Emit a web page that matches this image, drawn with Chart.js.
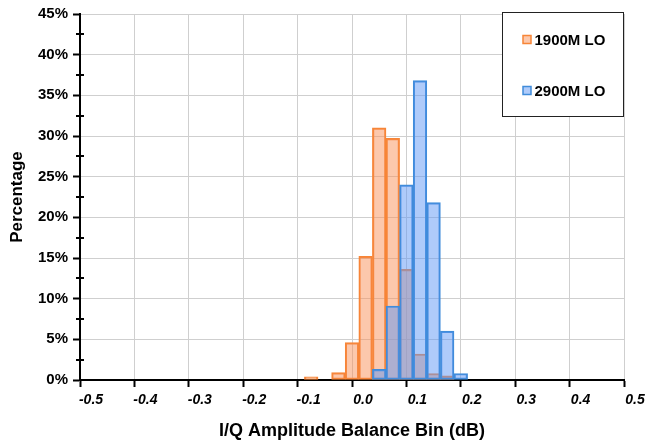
<!DOCTYPE html>
<html>
<head>
<meta charset="utf-8">
<script src="https://cdn.jsdelivr.net/npm/chart.js@4.4.1/dist/chart.umd.min.js"></script>
<style>
html,body{margin:0;padding:0;background:#fff;}
#wrap{width:645px;height:442px;position:relative;}
</style>
</head>
<body>
<div id="wrap"><canvas id="c"></canvas></div>
<script>
// Bin centers (dB), bin width 0.025 dB
const binCenters = [-0.15, -0.125, -0.1, -0.075, -0.05, -0.025, 0, 0.025, 0.05, 0.075, 0.1, 0.125, 0.15, 0.175, 0.2];
const lo1900 = [0, 0, 0, 0.4, 0, 0.9, 4.6, 15.2, 31.0, 29.7, 13.6, 3.2, 0.8, 0.5, null];
const lo2900 = [null, null, null, null, null, null, null, null, 1.3, 9.1, 24.0, 36.8, 21.8, 6.0, 0.8];
const seriesLabels = ['1900M LO', '2900M LO'];
const xTickValues = [-0.5, -0.4, -0.3, -0.2, -0.1, 0.0, 0.1, 0.2, 0.3, 0.4, 0.5];
const yTickValues = [0, 5, 10, 15, 20, 25, 30, 35, 40, 45];
const yMinorValues = [2.5, 7.5, 12.5, 17.5, 22.5, 27.5, 32.5, 37.5, 42.5];
const xTitle = 'I/Q Amplitude Balance Bin (dB)';
const yTitle = 'Percentage';

const FONT = "'Liberation Sans', Arial, sans-serif";
const fills = ['rgba(249,145,89,0.5)', 'rgba(95,151,245,0.5)'];
const borders = ['rgb(247,133,55)', 'rgb(64,140,218)'];

function toPoints(vals) {
  return binCenters.map((x, i) => ({x: x, y: vals[i]}));
}

const minorTicks = {
  id: 'minorTicks',
  afterDatasetsDraw(chart) {
    const ys = chart.scales.y, ctx = chart.ctx;
    const x0 = chart.chartArea.left;
    ctx.save();
    ctx.strokeStyle = '#000';
    ctx.lineWidth = 2;
    yMinorValues.forEach(v => {
      const py = Math.round(ys.getPixelForValue(v));
      ctx.beginPath();
      ctx.moveTo(x0 - 4, py);
      ctx.lineTo(x0 + 4, py);
      ctx.stroke();
    });
    ctx.restore();
  }
};

const boxLegend = {
  id: 'boxLegend',
  afterDraw(chart) {
    const ctx = chart.ctx, ca = chart.chartArea;
    const w = 121, h = 104;
    const left = Math.round(ca.right - w) - 0.5, top = Math.round(ca.top) - 1.5;
    ctx.save();
    ctx.fillStyle = '#fff';
    ctx.fillRect(left, top, w, h);
    ctx.strokeStyle = '#222';
    ctx.lineWidth = 1;
    ctx.strokeRect(left, top, w, h);
    ctx.font = 'bold 15px ' + FONT;
    ctx.textBaseline = 'middle';
    ctx.textAlign = 'left';
    const rows = [top + 27, top + 78];
    seriesLabels.forEach((lab, i) => {
      const cy = rows[i];
      ctx.fillStyle = fills[i];
      ctx.fillRect(left + 20.5, cy - 4, 8, 8);
      ctx.strokeStyle = borders[i];
      ctx.lineWidth = 1.5;
      ctx.strokeRect(left + 20.5, cy - 4, 8, 8);
      ctx.fillStyle = '#000';
      ctx.fillText(lab, left + 32, cy + 1);
    });
    ctx.restore();
  }
};

new Chart(document.getElementById('c'), {
  type: 'bar',
  data: {
    datasets: [
      {label: seriesLabels[0], data: toPoints(lo1900), backgroundColor: fills[0], borderColor: borders[0], borderWidth: 1.5, order: 2, borderSkipped: false},
      {label: seriesLabels[1], data: toPoints(lo2900), backgroundColor: fills[1], borderColor: borders[1], borderWidth: 1.5, order: 1, borderSkipped: false}
    ]
  },
  options: {
    responsive: true,
    maintainAspectRatio: false,
    animation: false,
    devicePixelRatio: 1,
    layout: {padding: {left: 0, right: 21, top: 14, bottom: 0}},
    datasets: {bar: {grouped: false, barPercentage: 1, categoryPercentage: 1}},
    plugins: {legend: {display: false}, tooltip: {enabled: false}},
    scales: {
      x: {
        type: 'linear', min: -0.5, max: 0.5, offset: false,
        afterBuildTicks(s) { s.ticks = xTickValues.map(v => ({value: v})); },
        afterFit(s) { s.height = 62; },
        grid: {color: '#cfcfcf', lineWidth: 1, offset: false, drawTicks: true, tickLength: 7, tickColor: '#000', tickWidth: 2},
        border: {color: '#000', width: 2},
        ticks: {
          color: '#000', padding: 5, labelOffset: 11, maxRotation: 0, minRotation: 0, autoSkip: false,
          font: {family: FONT, size: 14, weight: 'bold', style: 'italic'},
          callback: v => Number(v).toFixed(1)
        },
        title: {display: true, text: xTitle, color: '#000', padding: {top: 2, bottom: 0},
          font: {family: FONT, size: 18, weight: 'bold'}}
      },
      y: {
        min: 0, max: 45,
        afterBuildTicks(s) { s.ticks = yTickValues.map(v => ({value: v})); },
        afterFit(s) { s.width = 80; },
        grid: {color: '#cfcfcf', lineWidth: 1, drawTicks: true, tickLength: 7, tickColor: '#000', tickWidth: 2},
        border: {color: '#000', width: 2},
        ticks: {
          color: '#000', padding: 5, autoSkip: false,
          font: {family: FONT, size: 15, weight: 'bold'},
          callback: v => v + '%'
        },
        title: {display: true, text: yTitle, color: '#000', padding: {top: 7, bottom: 0},
          font: {family: FONT, size: 17, weight: 'bold'}}
      }
    }
  },
  plugins: [minorTicks, boxLegend]
});
</script>
</body>
</html>
